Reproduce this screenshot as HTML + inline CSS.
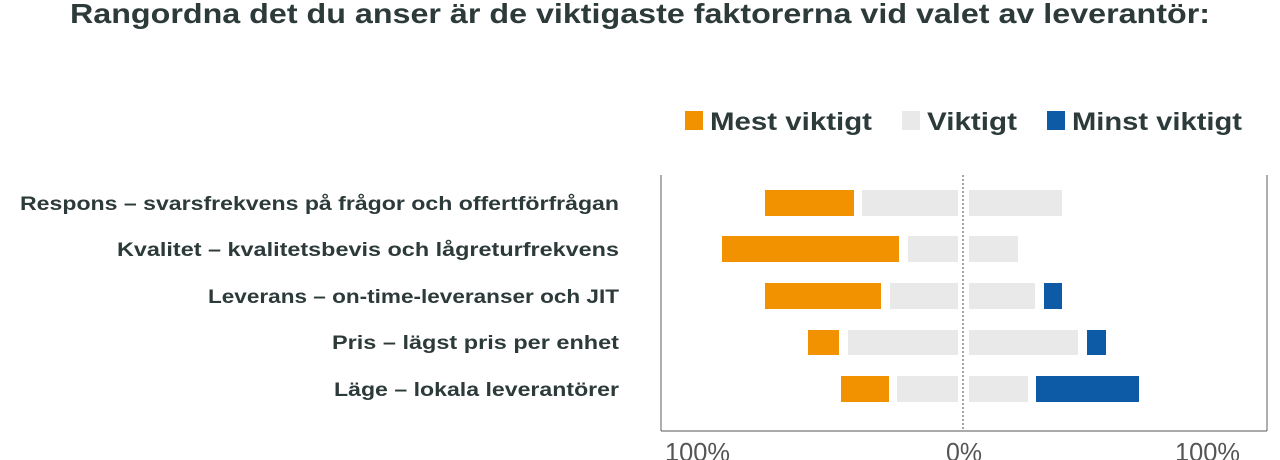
<!DOCTYPE html>
<html><head><meta charset="utf-8"><style>html,body{margin:0;padding:0;background:#fff;}svg{display:block;}</style></head>
<body>
<svg width="1280" height="460" viewBox="0 0 1280 460" xmlns="http://www.w3.org/2000/svg" font-family="Liberation Sans, sans-serif">
<text x="70" y="23" font-size="28" font-weight="bold" fill="#2d3a3a" textLength="1140" lengthAdjust="spacingAndGlyphs">Rangordna det du anser är de viktigaste faktorerna vid valet av leverantör:</text>
<rect x="685" y="111" width="18" height="19" fill="#f39200"/>
<text x="710" y="130" font-size="25" font-weight="bold" fill="#2d3a3a" textLength="162" lengthAdjust="spacingAndGlyphs">Mest viktigt</text>
<rect x="902" y="111" width="18" height="19" fill="#e9e9e9"/>
<text x="927" y="130" font-size="25" font-weight="bold" fill="#2d3a3a" textLength="90" lengthAdjust="spacingAndGlyphs">Viktigt</text>
<rect x="1047" y="111" width="18" height="19" fill="#0d5aa6"/>
<text x="1072" y="130" font-size="25" font-weight="bold" fill="#2d3a3a" textLength="170" lengthAdjust="spacingAndGlyphs">Minst viktigt</text>
<g font-size="19" font-weight="bold" fill="#2d3a3a">
<text x="20" y="210" textLength="599" lengthAdjust="spacingAndGlyphs">Respons – svarsfrekvens på frågor och offertförfrågan</text>
<text x="117" y="256" textLength="502" lengthAdjust="spacingAndGlyphs">Kvalitet – kvalitetsbevis och lågreturfrekvens</text>
<text x="208" y="303" textLength="411" lengthAdjust="spacingAndGlyphs">Leverans – on-time-leveranser och JIT</text>
<text x="332" y="349" textLength="287" lengthAdjust="spacingAndGlyphs">Pris – lägst pris per enhet</text>
<text x="334" y="396" textLength="285" lengthAdjust="spacingAndGlyphs">Läge – lokala leverantörer</text>
</g>
<line x1="661" y1="175" x2="661" y2="431" stroke="#777" stroke-width="1.2"/>
<line x1="1267" y1="175" x2="1267" y2="431" stroke="#777" stroke-width="1.2"/>
<line x1="661" y1="431" x2="1267" y2="431" stroke="#777" stroke-width="1.2"/>
<line x1="963" y1="175" x2="963" y2="431" stroke="#444" stroke-width="1" stroke-dasharray="2,2"/>
<g transform="translate(-2,0)">
<rect x="767" y="190" width="89" height="26" fill="#f39200"/>
<rect x="864" y="190" width="96" height="26" fill="#e9e9e9"/>
<rect x="971" y="190" width="93" height="26" fill="#e9e9e9"/>

<rect x="724" y="236" width="177" height="26" fill="#f39200"/>
<rect x="910" y="236" width="50" height="26" fill="#e9e9e9"/>
<rect x="971" y="236" width="49" height="26" fill="#e9e9e9"/>

<rect x="767" y="283" width="116" height="26" fill="#f39200"/>
<rect x="892" y="283" width="68" height="26" fill="#e9e9e9"/>
<rect x="971" y="283" width="66" height="26" fill="#e9e9e9"/>
<rect x="1046" y="283" width="18" height="26" fill="#0d5aa6"/>

<rect x="810" y="330" width="31" height="25" fill="#f39200"/>
<rect x="850" y="330" width="110" height="25" fill="#e9e9e9"/>
<rect x="971" y="330" width="109" height="25" fill="#e9e9e9"/>
<rect x="1089" y="330" width="19" height="25" fill="#0d5aa6"/>

<rect x="843" y="376" width="48" height="26" fill="#f39200"/>
<rect x="899" y="376" width="61" height="26" fill="#e9e9e9"/>
<rect x="971" y="376" width="59" height="26" fill="#e9e9e9"/>
<rect x="1038" y="376" width="103" height="26" fill="#0d5aa6"/>
</g>
<g font-size="26" fill="#555">
<text x="665" y="461" textLength="65" lengthAdjust="spacingAndGlyphs">100%</text>
<text x="946" y="461" textLength="36" lengthAdjust="spacingAndGlyphs">0%</text>
<text x="1175" y="461" textLength="65" lengthAdjust="spacingAndGlyphs">100%</text>
</g>
</svg>
</body></html>
